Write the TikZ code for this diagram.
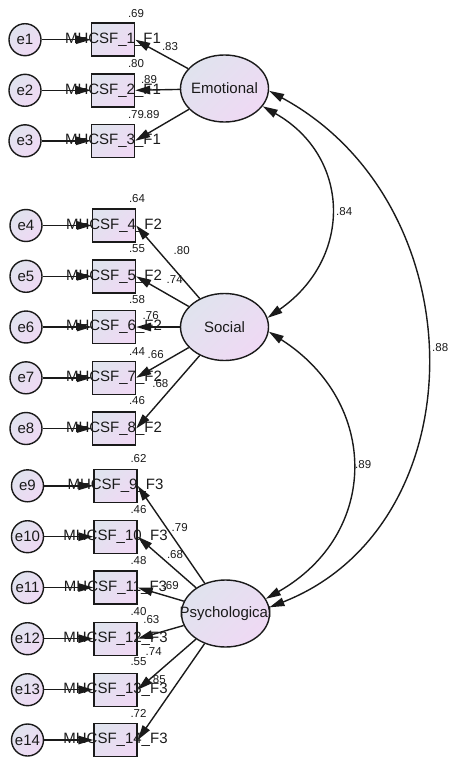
\documentclass[tikz,border=0pt]{standalone}
\usepackage{fontspec}
\setmainfont{Liberation Sans}
\usetikzlibrary{shapes.geometric,arrows.meta}
\definecolor{fa}{HTML}{E0E3EE}
\definecolor{fb}{HTML}{EFD9F4}
\definecolor{ink}{HTML}{1A1A1A}
\begin{document}
\begin{tikzpicture}[x=1pt,y=-1pt,
  latv/.style={ellipse,draw=ink,line width=1.4pt,minimum width=88pt,minimum height=67pt,inner sep=0pt,
    top color=fa,bottom color=fb,shading angle=45},
  obsv/.style={rectangle,draw=ink,line width=1.4pt,minimum width=43pt,minimum height=33pt,inner sep=0pt,
    top color=fa,bottom color=fb,shading angle=45},
  errv/.style={circle,draw=ink,line width=1.4pt,minimum size=32pt,inner sep=0pt,
    top color=fa,bottom color=fb,shading angle=45,font=\fontsize{15}{18}\selectfont,text=ink},
  itx/.style={font=\fontsize{15}{18}\selectfont,text=ink,inner sep=0pt},
  numl/.style={font=\fontsize{11.5}{13}\selectfont,text=ink,inner sep=0pt},
  arr/.style={draw=ink,line width=1.4pt,-{Triangle[length=15pt,width=8.5pt]}},
  covl/.style={draw=ink,line width=1.4pt,{Triangle[length=15pt,width=8.5pt]}-{Triangle[length=15pt,width=8.5pt]}}
]
\useasboundingbox (0,0) rectangle (449,760);

% latent variables
\node[latv] (emo) at (224.5,88.5) {};
\node[latv] (soc) at (224.5,327) {};
\node[latv] (psy) at (225.5,613.5) {};
\node[itx] (emot) at (emo) {Emotional};
\node[itx] (soct) at (soc) {Social};
\node[itx] (psyt) at (psy) {Psychological};

% observed variables and error terms
\foreach \i/\y/\ex/\bx/\f in {1/39.7/25/113/1, 2/90.3/25/113/1, 3/140.8/25/113/1,
  4/225.5/26/114/2, 5/276.3/26/114/2, 6/327/26/114/2, 7/377.8/26/114/2, 8/428.5/26/114/2,
  9/485.8/27.5/115.5/3, 10/536.7/27.5/115.5/3, 11/587.5/27.5/115.5/3, 12/638.7/27.5/115.5/3,
  13/689.7/27.5/115.5/3, 14/740/27.5/115.5/3}{
  \node[errv] (e\i) at (\ex,\y) {e\i};
  \node[obsv] (b\i) at (\bx,\y) {};
  \draw[arr] (e\i) -- (b\i);
  \node[itx] (t\i) at (b\i) {MHCSF\_\i\_F\f};
}

% loadings
\foreach \i in {1,2,3}{\draw[arr] (emo) -- (b\i.east);}
\foreach \i in {4,5,6,7,8}{\draw[arr] (soc) -- (b\i.east);}
\foreach \i in {9,10,11,12,13,14}{\draw[arr] (psy) -- (b\i.east);}

% squared multiple correlations
\foreach \i/\x/\y/\v in {1/136/13.3/.69, 2/136/64/.80, 3/136/115/.79,
  4/137/198.5/.64, 5/137/249/.55, 6/137/300/.58, 7/137/351.7/.44, 8/137/401/.46,
  9/138.5/459/.62, 10/138.5/509.5/.46, 11/138.5/560.7/.48, 12/138.5/611.7/.40,
  13/138.5/662/.55, 14/138.5/713.3/.72}{
  \node[numl] (r\i) at (\x,\y) {\v};
}

% loading values
\foreach \i/\x/\y/\v in {1/170/47/.83, 2/149/80/.89, 3/151.5/115/.89,
  4/181.7/250.7/.80, 5/174.7/280/.74, 6/150.7/316/.76, 7/155.7/355/.66, 8/160.3/383.3/.68,
  9/179.7/527.7/.79, 10/175/555/.68, 11/170.7/586/.69, 12/151.3/620/.63,
  13/153.7/651.7/.74, 14/157.7/680/.85}{
  \node[numl] (l\i) at (\x,\y) {\v};
}

% covariances
\draw[covl] (emo.-25) .. controls +(88,50) and +(86,-60) .. (soc.12);
\draw[covl] (emo.-3) .. controls +(210,114) and +(209,-82) .. (psy.8);
\draw[covl] (soc.-6) .. controls +(111,71) and +(114,-65) .. (psy.20);
\node[numl,anchor=west] (c1) at (336,212) {.84};
\node[numl,anchor=west] (c2) at (432,348) {.88};
\node[numl,anchor=west] (c3) at (355,465) {.89};
\end{tikzpicture}
\end{document}
